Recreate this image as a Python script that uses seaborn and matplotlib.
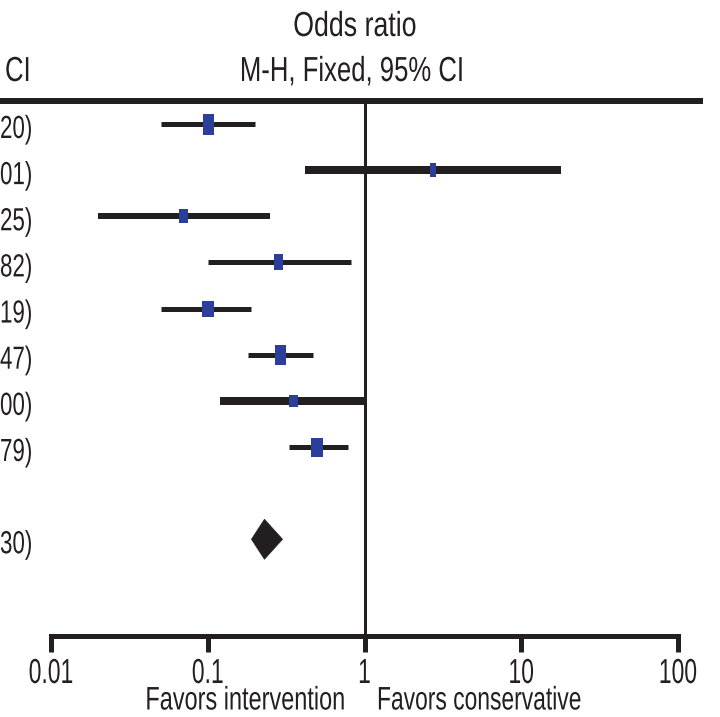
import numpy as np
import pandas as pd
import matplotlib
matplotlib.use("Agg")
import matplotlib.pyplot as plt
import matplotlib.transforms as mtransforms
from matplotlib.lines import Line2D
from matplotlib.patches import Polygon
from matplotlib.patheffects import AbstractPathEffect
import seaborn as sns

# Study-level odds ratios with 95% CI (M-H, fixed effect)
odds_ratio = [0.10, 2.75, 0.07, 0.28, 0.10, 0.29, 0.35, 0.50]
ci_low = [0.05, 0.42, 0.02, 0.10, 0.05, 0.18, 0.12, 0.33]
ci_high = [0.20, 18.01, 0.25, 0.82, 0.19, 0.47, 1.00, 0.79]

# Pooled estimate
total_or = 0.23
total_low = 0.19
total_high = 0.30

tick_values = [0.01, 0.1, 1, 10, 100]
tick_labels = ["0.01", "0.1", "1", "10", "100"]

# Box sizes (width, height in pixels) reflecting study weight
box_px = [(11, 21), (6, 14), (9, 14), (9, 16), (12, 16), (11, 20), (9, 12), (12, 19)]
ci_lw = [5, 8, 6, 5, 5, 5, 8, 5]

sns.set_theme(style="white")
plt.rcParams["font.family"] = ["Liberation Sans", "DejaVu Sans"]


class Condense(AbstractPathEffect):
    """Narrow a text's glyphs horizontally about its anchor point."""

    def __init__(self, text, sx):
        super().__init__()
        self.text = text
        self.sx = sx

    def draw_path(self, renderer, gc, tpath, affine, rgbFace=None):
        x0 = self.text.get_transform().transform(self.text.get_unitless_position())[0]
        squeeze = mtransforms.Affine2D().translate(-x0, 0).scale(self.sx, 1).translate(x0, 0)
        renderer.draw_path(gc, tpath, affine + squeeze, rgbFace)


def condensed(t, sx):
    t.set_path_effects([Condense(t, sx)])
    return t


W, H, DPI = 720, 717, 100
fig = plt.figure(figsize=(W / DPI, H / DPI), dpi=DPI)
fig.patch.set_facecolor("white")

# Axes spans the plotting band between the header rule and the scale
ax_left, ax_right = 51, 678
ax_top, ax_bottom = 100, 636
ax = fig.add_axes([ax_left / W, 1 - ax_bottom / H, (ax_right - ax_left) / W, (ax_bottom - ax_top) / H])
ax.set_facecolor("none")

row_px0, row_step = 124, 46.14
ymin = 1 + (ax_bottom - row_px0) / row_step
ymax = 1 - (row_px0 - ax_top) / row_step
ax.set_xscale("log")
ax.set_xlim(0.01, 100)
ax.set_ylim(ymin, ymax)

px_per_pt = DPI / 72.0
dark = "#231f20"
blue = "#2b3f9a"

rows = np.arange(1, len(odds_ratio) + 1)
df = pd.DataFrame({"row": rows, "or": odds_ratio, "lo": ci_low, "hi": ci_high})

for i, r in df.iterrows():
    ax.plot([r["lo"], r["hi"]], [r["row"], r["row"]], color=dark, lw=ci_lw[i] / px_per_pt,
            solid_capstyle="butt", zorder=2)
    w, h = box_px[i]
    verts = [(-w / 2, -h / 2), (w / 2, -h / 2), (w / 2, h / 2), (-w / 2, h / 2), (-w / 2, -h / 2)]
    ax.plot([r["or"]], [r["row"]], marker=verts, markersize=max(w, h) / px_per_pt,
            color=blue, markeredgewidth=0, linestyle="none", zorder=3)

# Pooled diamond
total_row = len(odds_ratio) + 2
half_h = 20 / row_step
diamond = Polygon([(total_low, total_row), (total_or, total_row - half_h),
                   (total_high, total_row), (total_or, total_row + half_h)],
                  closed=True, facecolor=dark, edgecolor=dark, lw=0.5, zorder=3)
ax.add_patch(diamond)

# Line of no effect
ax.plot([1, 1], [ymin, ymax], color=dark, lw=3 / px_per_pt, zorder=1, clip_on=False)

# Scale at the bottom
for s in ["top", "right", "left"]:
    ax.spines[s].set_visible(False)
ax.spines["bottom"].set_color(dark)
ax.spines["bottom"].set_linewidth(5 / px_per_pt)
ax.spines["bottom"].set_capstyle("projecting")
ax.set_xticks(tick_values)
ax.xaxis.set_minor_locator(matplotlib.ticker.NullLocator())
ax.tick_params(axis="x", direction="out", length=16 / px_per_pt, width=5 / px_per_pt,
               color=dark, bottom=True, labelbottom=False)
ax.set_yticks([])
ax.grid(False)

xdata_yfig = mtransforms.blended_transform_factory(ax.transData, fig.transFigure)
for v, lab in zip(tick_values, tick_labels):
    condensed(ax.text(v, 1 - 683 / H, lab, transform=xdata_yfig, ha="center", va="baseline",
                      fontsize=25, color=dark, clip_on=False), 0.66)

# Header rule across the table
y_rule = 1 - 100.5 / H
fig.add_artist(Line2D([0, 703 / W], [y_rule, y_rule], color=dark, lw=6 / px_per_pt,
                      solid_capstyle="butt"))

# Column headers
condensed(fig.text(355 / W, 1 - 36 / H, "Odds ratio", ha="center", va="baseline",
                   fontsize=25, color=dark), 0.77)
condensed(fig.text(352 / W, 1 - 81 / H, "M-H, Fixed, 95% CI", ha="center", va="baseline",
                   fontsize=25, color=dark), 0.74)
condensed(fig.text(5 / W, 1 - 81 / H, "CI", ha="left", va="baseline",
                   fontsize=25, color=dark), 0.74)

# Upper CI limits printed at the edge of the left column
for i, r in df.iterrows():
    y_px = row_px0 + (r["row"] - 1) * row_step + 14
    tail = f"{r['hi']:.2f}"[-2:] + ")"
    condensed(fig.text(0, 1 - y_px / H, tail, ha="left", va="baseline",
                       fontsize=23, color=dark), 0.70)
y_px = row_px0 + (total_row - 1) * row_step + 14
condensed(fig.text(0, 1 - y_px / H, f"{total_high:.2f}"[-2:] + ")", ha="left", va="baseline",
                   fontsize=23, color=dark), 0.70)

# Direction labels
condensed(fig.text(345 / W, 1 - 709.5 / H, "Favors intervention", ha="right", va="baseline",
                   fontsize=23.5, color=dark), 0.72)
condensed(fig.text(377 / W, 1 - 709.5 / H, "Favors conservative", ha="left", va="baseline",
                   fontsize=23.5, color=dark), 0.70)

fig.savefig("out.png", dpi=DPI, facecolor="white")
